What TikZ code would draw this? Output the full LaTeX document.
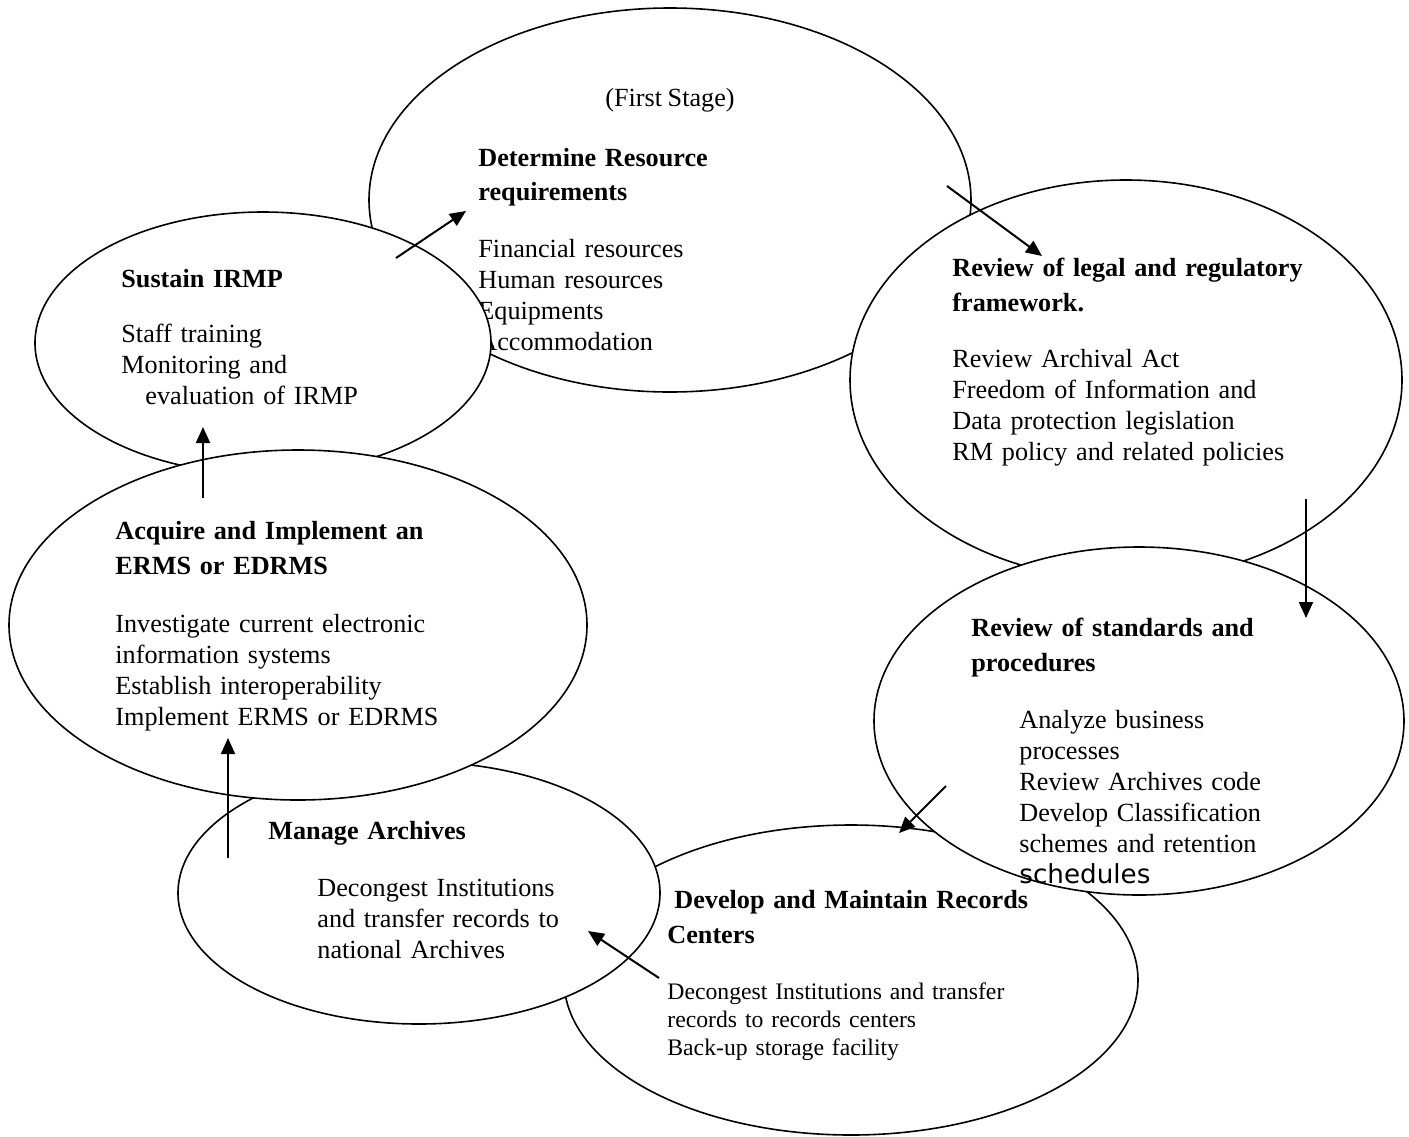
\documentclass[tikz,border=0pt]{standalone}
\usepackage{fontspec}
\setmainfont{Liberation Serif}[WordSpace=0.85]
\newfontfamily\dejavu{DejaVu Sans}
\usetikzlibrary{shapes.geometric,arrows.meta}
\begin{document}
\begin{tikzpicture}[x=0.5pt,y=-0.5pt,
  ell/.style={ellipse, draw, fill=white, line width=0.8pt, inner sep=0pt},
  txt/.style={anchor=base west, inner sep=0pt, text width=330pt, align=left, font=\fontsize{13.1}{15.5}\selectfont},
  smalltxt/.style={txt, font=\fontsize{11.85}{14}\selectfont},
  arr/.style={line width=1pt, -{Triangle[length=8pt,width=7pt]}}]

\useasboundingbox (0,0) rectangle (1409,1136);

% First stage
\node[ell, minimum width=301pt, minimum height=192pt] (first) at (670,200) {};
\node[anchor=base, inner sep=0pt, font=\fontsize{13.1}{15.5}\selectfont] (firstlbl) at (670,106) {(First Stage)};
\node[txt] (firsttxt) at (478,166) {\textbf{Determine Resource}\\[1.5pt]\textbf{requirements}\\[13pt]Financial resources\\Human resources\\Equipments\\Accommodation};

% Legal
\node[ell, minimum width=276pt, minimum height=200pt] (legal) at (1126,380) {};
\node[txt] (legaltxt) at (952,276) {\textbf{Review of legal and regulatory}\\[2pt]\textbf{framework.}\\[12.5pt]Review Archival Act\\Freedom of Information and\\Data protection legislation\\RM policy and related policies};

% Develop (ellipse)
\node[ell, minimum width=287pt, minimum height=155pt] (develop) at (851,980) {};

% Standards
\node[ell, minimum width=265pt, minimum height=174pt] (standards) at (1139,721) {};
\node[txt] (stdhead) at (971,636) {\textbf{Review of standards and}\\[2pt]\textbf{procedures}};
\node[txt] (stdbody) at (1019,728) {Analyze business\\processes\\Review Archives code\\Develop Classification\\schemes and retention\\{\dejavu schedules}};

% Develop text
\node[txt] (devhead) at (667,908) {\hspace*{3.5pt}\textbf{Develop and Maintain Records}\\[2pt]\textbf{Centers}};
\node[smalltxt] (devbody) at (667,999) {Decongest Institutions and transfer\\records to records centers\\Back-up storage facility};

% Sustain
\node[ell, minimum width=228pt, minimum height=131pt] (sustain) at (263,343) {};
\node[txt] (sustxt) at (121,287) {\textbf{Sustain IRMP}\\[12pt]Staff training\\Monitoring and\\\hspace*{12pt}evaluation of IRMP};

% Manage
\node[ell, minimum width=241pt, minimum height=131pt] (manage) at (419,893) {};
\node[txt] (manhead) at (268,839) {\textbf{Manage Archives}};
\node[txt] (manbody) at (317,896) {Decongest Institutions\\and transfer records to\\national Archives};

% Acquire
\node[ell, minimum width=289pt, minimum height=175pt] (acquire) at (298,625) {};
\node[txt] (acqtxt) at (115,539) {\textbf{Acquire and Implement an}\\[2pt]\textbf{ERMS or EDRMS}\\[13.5pt]Investigate current electronic\\information systems\\Establish interoperability\\Implement ERMS or EDRMS};

% Arrow end points
\coordinate (a1s) at (396,258); \coordinate (a1e) at (466,211);
\coordinate (a2s) at (947,186); \coordinate (a2e) at (1042,256);
\coordinate (a3s) at (1306,499); \coordinate (a3e) at (1306,618);
\coordinate (a4s) at (946,786); \coordinate (a4e) at (899,833);
\coordinate (a5s) at (659,978); \coordinate (a5e) at (588,931);
\coordinate (a6s) at (228,858); \coordinate (a6e) at (228,738);
\coordinate (a7s) at (203,498); \coordinate (a7e) at (203,427);

\draw[arr] (a1s) -- (a1e);
\draw[arr] (a2s) -- (a2e);
\draw[arr] (a3s) -- (a3e);
\draw[arr] (a4s) -- (a4e);
\draw[arr] (a5s) -- (a5e);
\draw[arr] (a6s) -- (a6e);
\draw[arr] (a7s) -- (a7e);
\end{tikzpicture}
\end{document}
